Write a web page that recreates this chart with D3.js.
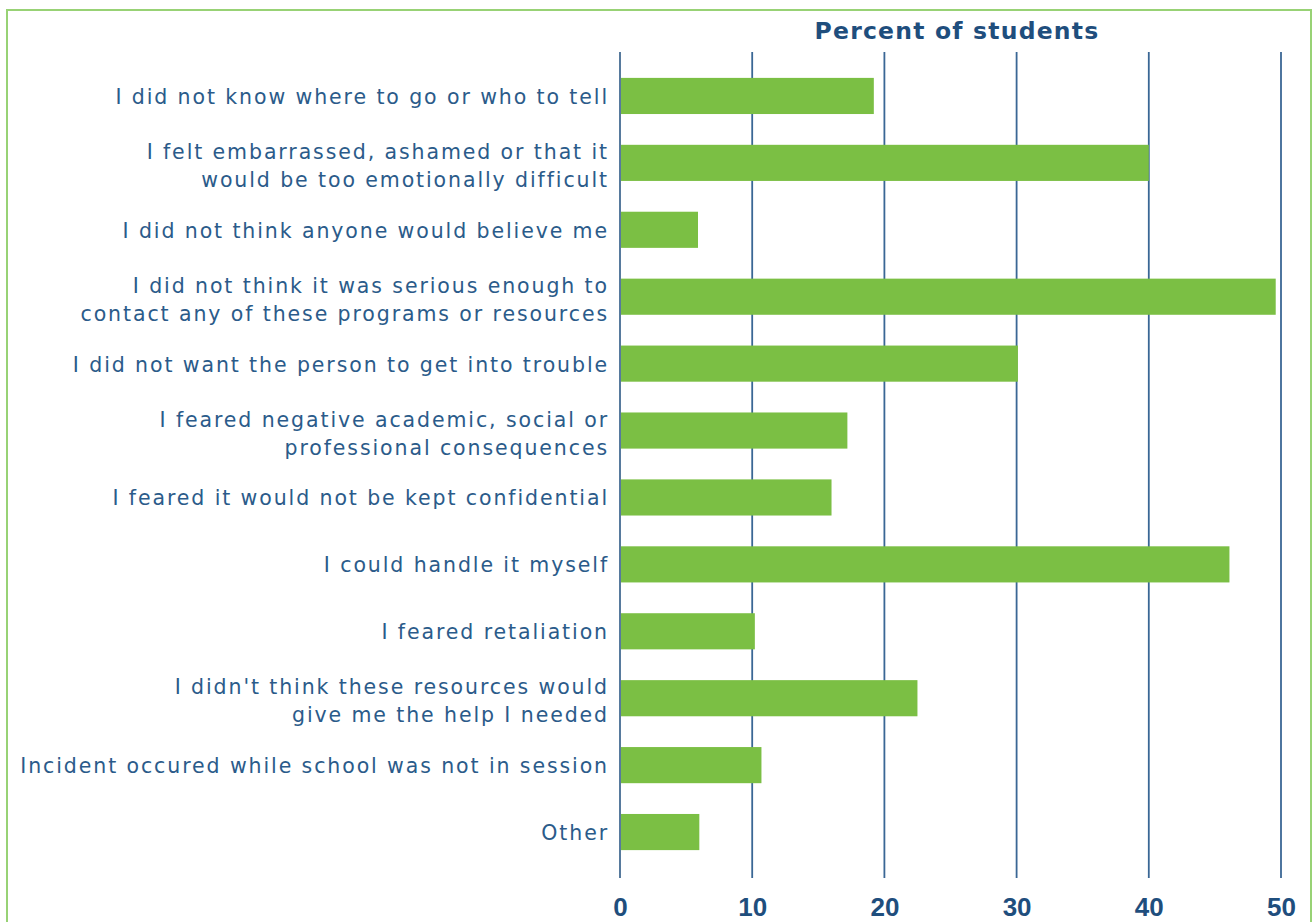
<!DOCTYPE html>
<html lang="en">
<head>
<meta charset="UTF-8">
<title>Reasons for not reporting</title>
<style>
  body { margin: 0; background: #fff; }
  svg { display: block; }
</style>
</head>
<body>
<svg id="chart" width="1313" height="922"></svg>
<script src="https://d3js.org/d3.v7.min.js"></script>
<script>
// reasons (label lines) and percent of students
var reasons = [
  ["I did not know where to go or who to tell"],
  ["I felt embarrassed, ashamed or that it", "would be too emotionally difficult"],
  ["I did not think anyone would believe me"],
  ["I did not think it was serious enough to", "contact any of these programs or resources"],
  ["I did not want the person to get into trouble"],
  ["I feared negative academic, social or", "professional consequences"],
  ["I feared it would not be kept confidential"],
  ["I could handle it myself"],
  ["I feared retaliation"],
  ["I didn't think these resources would", "give me the help I needed"],
  ["Incident occured while school was not in session"],
  ["Other"]
];
var percents = [19.2, 40.0, 5.9, 49.6, 30.1, 17.2, 16.0, 46.1, 10.2, 22.5, 10.7, 6.0];
var ticks = [0, 10, 20, 30, 40, 50];

var svg = d3.select("#chart"),
  blue = "#2b5b8a",
  dark = "#1f4e7d";

// green frame
svg.append("rect")
  .attr("x", 7).attr("y", 10)
  .attr("width", 1304).attr("height", 930)
  .attr("fill", "none")
  .attr("stroke", "#98d275")
  .attr("stroke-width", 2);

var x = d3.scaleLinear().domain([0, 50]).range([620, 1281]);
var y = d3.scaleBand()
  .domain(d3.range(reasons.length))
  .range([62.5, 865.5])
  .paddingInner(0.46)
  .paddingOuter(0.23);

// gridlines
svg.append("g").selectAll("line")
  .data(ticks)
  .join("line")
  .attr("x1", d => x(d)).attr("x2", d => x(d))
  .attr("y1", 52).attr("y2", 878)
  .attr("stroke", d => d == 0 ? dark : "#3a6795")
  .attr("stroke-width", d => d == 0 ? 1.5 : 1.8);

// bars
svg.append("g").selectAll("rect")
  .data(percents)
  .join("rect")
  .attr("x", x(0) + 1)
  .attr("y", (d, i) => y(i))
  .attr("width", d => x(d) - x(0) - 1)
  .attr("height", y.bandwidth())
  .attr("fill", "#7bbf44");

// category labels
var lab = svg.append("g")
  .attr("font-family", "DejaVu Sans, Verdana, sans-serif")
  .attr("font-size", 20.5)
  .attr("letter-spacing", 1.9)
  .attr("fill", blue)
  .attr("text-anchor", "end");

reasons.forEach(function (lines, i) {
  var cy = y(i) + y.bandwidth() / 2 + (lines.length > 1 ? 2 : 0);
  var t = lab.append("text").attr("x", 609).attr("y", cy);
  lines.forEach(function (s, j) {
    t.append("tspan")
      .attr("x", 609)
      .attr("y", cy + (j - (lines.length - 1) / 2) * 28 + 8)
      .text(s);
  });
});

// x tick labels
var xa = d3.axisBottom(x).tickValues(ticks).tickSize(0).tickPadding(0);
var g = svg.append("g").attr("transform", "translate(0,898)").call(xa);
g.select(".domain").remove();
g.selectAll("text")
  .attr("font-family", "Liberation Sans Narrow, Liberation Sans, Arial, sans-serif")
  .attr("font-weight", "bold")
  .attr("font-size", 26)
  .attr("fill", dark);

// title
svg.append("text")
  .attr("x", 957).attr("y", 39)
  .attr("text-anchor", "middle")
  .attr("font-family", "DejaVu Sans, Verdana, sans-serif")
  .attr("font-weight", "bold")
  .attr("font-size", 23.5)
  .attr("letter-spacing", 1.2)
  .attr("fill", dark)
  .text("Percent of students");
</script>
</body>
</html>
